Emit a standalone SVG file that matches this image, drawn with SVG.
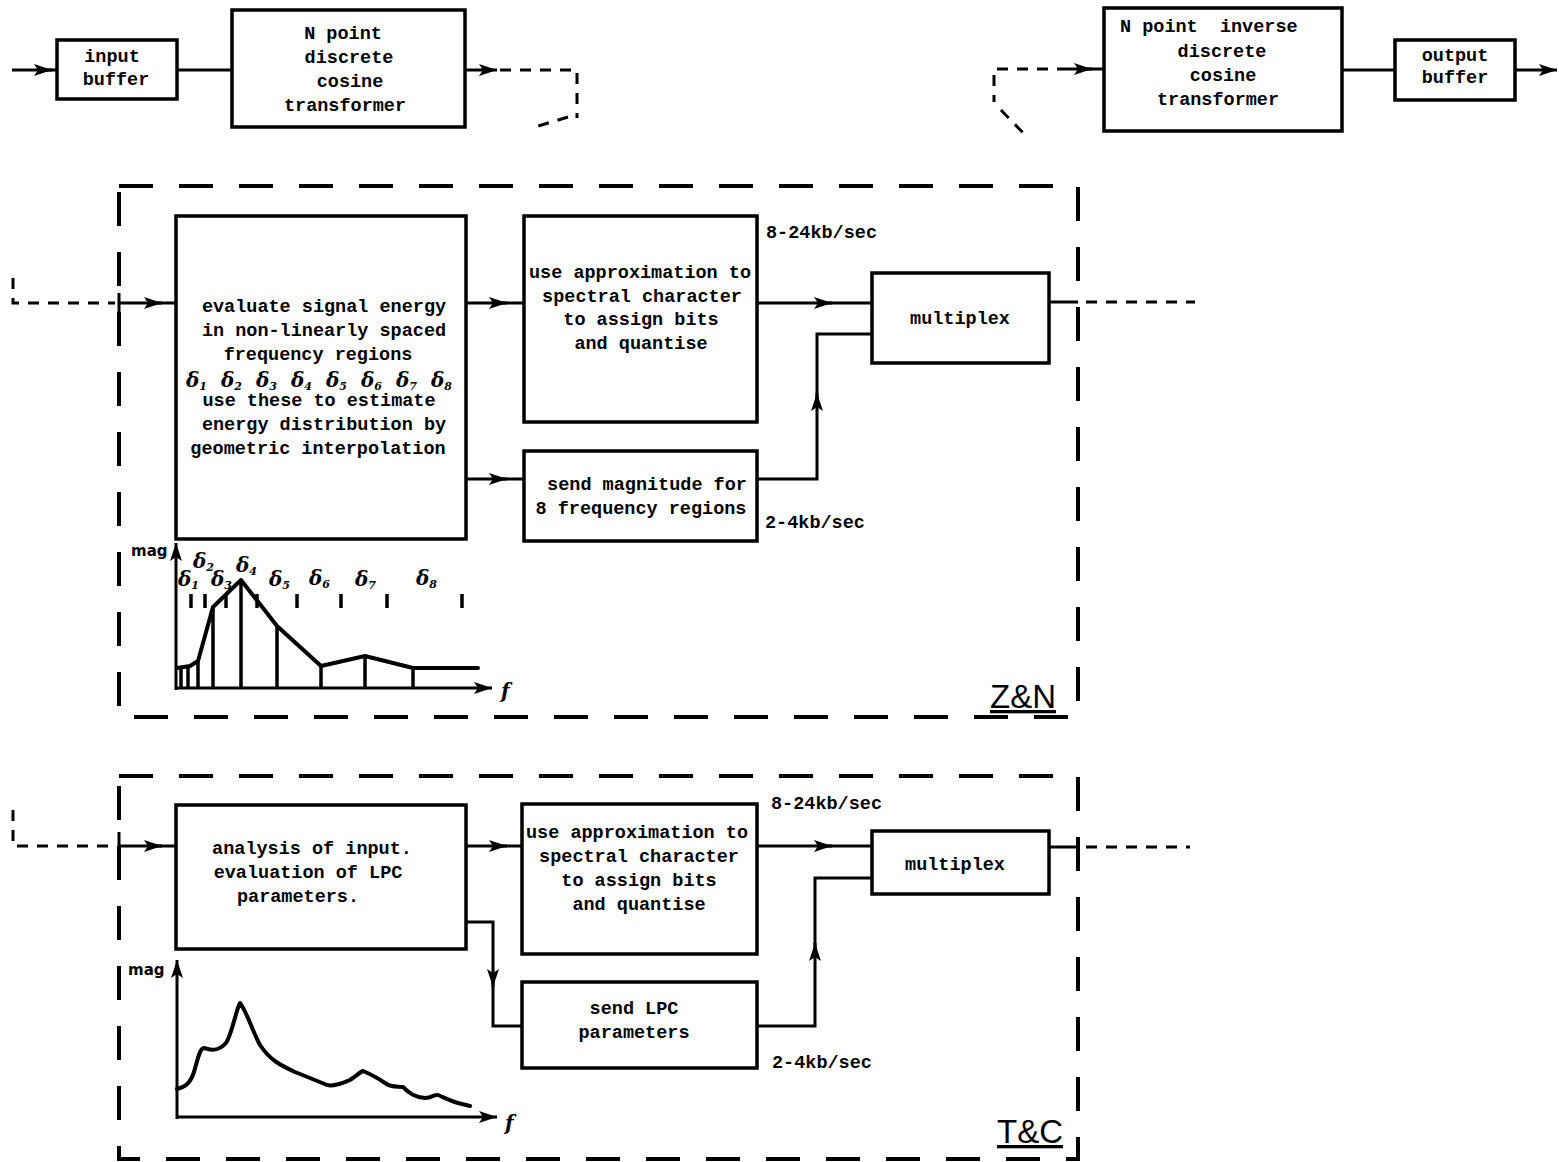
<svg xmlns="http://www.w3.org/2000/svg" width="1559" height="1162" viewBox="0 0 1559 1162">
<defs>
<marker id="ah" markerUnits="userSpaceOnUse" markerWidth="20" markerHeight="14" refX="18" refY="7" orient="auto">
<path d="M0,1 L18,7 L0,13 L4,7 z" fill="#000"/>
</marker>
<style>
.box{fill:#fff;stroke:#000;stroke-width:3.5}
.ln{fill:none;stroke:#000;stroke-width:3}
.dl{fill:none;stroke:#000;stroke-width:3;stroke-dasharray:11 9}
.frame{fill:none;stroke:#000;stroke-width:4;stroke-dasharray:34 26}
.t{font-family:"Liberation Mono",monospace;font-weight:bold;font-size:18.5px;fill:#000;text-anchor:middle}
.tl{font-family:"Liberation Mono",monospace;font-weight:bold;font-size:18.5px;fill:#000}
.lab{font-family:"Liberation Sans",Arial,sans-serif;font-size:33px;fill:#000;text-decoration:underline}
.d{font-family:"DejaVu Serif",serif;font-style:italic;font-weight:bold;font-size:20px;fill:#000}
.ds{font-family:"DejaVu Serif",serif;font-weight:bold;font-size:11px;fill:#000}
.hand{font-family:"DejaVu Sans",sans-serif;font-weight:bold;font-size:15px;fill:#000}
.cv{fill:none;stroke:#000;stroke-width:4;stroke-linejoin:round;stroke-linecap:round}
</style>
</defs>
<rect width="1559" height="1162" fill="#fff"/>

<g id="frames">
<rect class="frame" x="119" y="186" width="959" height="531"/>
<rect class="frame" x="119" y="776" width="959" height="383"/>
<rect x="985" y="700" width="80" height="14" fill="#fff"/>
<rect x="992" y="1134" width="72" height="14" fill="#fff"/>
<text class="lab" x="990" y="708">Z&amp;N</text>
<text class="lab" x="997" y="1143">T&amp;C</text>
</g>

<g id="connectors">
<!-- top left -->
<path class="ln" d="M12,70 H52" marker-end="url(#ah)"/>
<path class="ln" d="M45,70 H57"/>
<path class="ln" d="M177,70 H232"/>
<path class="ln" d="M465,70 H497" marker-end="url(#ah)"/>
<path class="dl" d="M500,70 H577 V118"/>
<path class="dl" d="M568,117 L535,127"/>
<!-- top right -->
<path class="dl" d="M1068,69 H994 V102"/>
<path class="dl" d="M1001,110 L1028,138"/>
<path class="ln" d="M1068,69 H1092" marker-end="url(#ah)"/>
<path class="ln" d="M1085,69 H1104"/>
<path class="ln" d="M1342,70 H1395"/>
<path class="ln" d="M1515,70 H1557" marker-end="url(#ah)"/>
<!-- Z&N -->
<path class="dl" d="M13,278 V303 H115"/>
<path class="ln" d="M119,293 V313"/>
<path class="ln" d="M119,303 H162" marker-end="url(#ah)"/>
<path class="ln" d="M155,303 H176"/>
<path class="ln" d="M466,303 H507" marker-end="url(#ah)"/>
<path class="ln" d="M500,303 H524"/>
<path class="ln" d="M466,479 H507" marker-end="url(#ah)"/>
<path class="ln" d="M500,479 H524"/>
<path class="ln" d="M757,303 H832" marker-end="url(#ah)"/>
<path class="ln" d="M825,303 H872"/>
<path class="ln" d="M757,479 H817 V393" marker-end="url(#ah)"/>
<path class="ln" d="M817,400 V334 H872"/>
<path class="ln" d="M1049,302 H1078"/>
<path class="dl" d="M1086,302 H1195"/>
<!-- T&C -->
<path class="dl" d="M13,810 V846 H115"/>
<path class="ln" d="M119,832 V860"/>
<path class="ln" d="M119,846 H162" marker-end="url(#ah)"/>
<path class="ln" d="M155,846 H176"/>
<path class="ln" d="M466,846 H507" marker-end="url(#ah)"/>
<path class="ln" d="M500,846 H522"/>
<path class="ln" d="M466,922 H493 V987" marker-end="url(#ah)"/>
<path class="ln" d="M493,980 V1026 H522"/>
<path class="ln" d="M757,846 H832" marker-end="url(#ah)"/>
<path class="ln" d="M825,846 H872"/>
<path class="ln" d="M757,1026 H815 V943" marker-end="url(#ah)"/>
<path class="ln" d="M815,950 V878 H872"/>
<path class="ln" d="M1049,847 H1078"/>
<path class="dl" d="M1086,847 H1190"/>
</g>

<g id="input-buffer">
<rect class="box" x="57" y="40" width="120" height="59"/>
<text class="t" x="112" y="62">input</text>
<text class="t" x="116" y="85">buffer</text>
</g>

<g id="dct">
<rect class="box" x="232" y="10" width="233" height="117"/>
<text class="t" x="343" y="39">N point</text>
<text class="t" x="349" y="63">discrete</text>
<text class="t" x="350" y="87">cosine</text>
<text class="t" x="345" y="111">transformer</text>
</g>

<g id="idct">
<rect class="box" x="1104" y="8" width="238" height="123"/>
<text class="tl" x="1120" y="32" xml:space="preserve">N point  inverse</text>
<text class="t" x="1222" y="57">discrete</text>
<text class="t" x="1223" y="81">cosine</text>
<text class="t" x="1218" y="105">transformer</text>
</g>

<g id="output-buffer">
<rect class="box" x="1395" y="40" width="120" height="60"/>
<text class="t" x="1455" y="61">output</text>
<text class="t" x="1455" y="83">buffer</text>
</g>

<g id="evaluate">
<rect class="box" x="176" y="216" width="290" height="323"/>
<text class="t" x="324" y="312">evaluate signal energy</text>
<text class="t" x="324" y="336">in non-linearly spaced</text>
<text class="t" x="318" y="360">frequency regions</text>
<text class="d" x="186" y="387">δ<tspan class="ds" dy="3">1</tspan><tspan dx="14" dy="-3">δ</tspan><tspan class="ds" dy="3">2</tspan><tspan dx="14" dy="-3">δ</tspan><tspan class="ds" dy="3">3</tspan><tspan dx="14" dy="-3">δ</tspan><tspan class="ds" dy="3">4</tspan><tspan dx="14" dy="-3">δ</tspan><tspan class="ds" dy="3">5</tspan><tspan dx="14" dy="-3">δ</tspan><tspan class="ds" dy="3">6</tspan><tspan dx="14" dy="-3">δ</tspan><tspan class="ds" dy="3">7</tspan><tspan dx="14" dy="-3">δ</tspan><tspan class="ds" dy="3">8</tspan></text>
<text class="t" x="319" y="406">use these to estimate</text>
<text class="t" x="324" y="430">energy distribution by</text>
<text class="t" x="318" y="454">geometric interpolation</text>
</g>

<g id="approx1">
<rect class="box" x="524" y="216" width="233" height="206"/>
<text class="t" x="640" y="278">use approximation to</text>
<text class="t" x="642" y="302">spectral character</text>
<text class="t" x="641" y="325">to assign bits</text>
<text class="t" x="641" y="349">and quantise</text>
</g>

<g id="sendmag">
<rect class="box" x="524" y="451" width="233" height="90"/>
<text class="t" x="647" y="490">send magnitude for</text>
<text class="t" x="641" y="514">8 frequency regions</text>
</g>

<g id="mux1">
<rect class="box" x="872" y="273" width="177" height="90"/>
<text class="t" x="960" y="324">multiplex</text>
</g>

<g id="rates1">
<text class="tl" x="766" y="238">8-24kb/sec</text>
<text class="tl" x="765" y="528">2-4kb/sec</text>
</g>

<g id="graph1">
<path class="ln" d="M176,690 V543" marker-end="url(#ah)"/>
<path class="ln" d="M175,688 H492" marker-end="url(#ah)"/>
<path class="cv" d="M177,668 L190,666 L198,661 L213,607 L241,580 L277,626 L321,666 L365,656 L413,668 L478,668"/>
<g stroke="#000" stroke-width="3.5">
<line x1="181" y1="668" x2="181" y2="688"/>
<line x1="188" y1="666" x2="188" y2="688"/>
<line x1="198" y1="661" x2="198" y2="688"/>
<line x1="213" y1="607" x2="213" y2="688"/>
<line x1="241" y1="580" x2="241" y2="688"/>
<line x1="277" y1="626" x2="277" y2="688"/>
<line x1="321" y1="666" x2="321" y2="688"/>
<line x1="365" y1="656" x2="365" y2="688"/>
<line x1="413" y1="668" x2="413" y2="688"/>
<line x1="191" y1="594" x2="191" y2="608"/>
<line x1="205" y1="594" x2="205" y2="608"/>
<line x1="226" y1="594" x2="226" y2="608"/>
<line x1="257" y1="594" x2="257" y2="608"/>
<line x1="297" y1="594" x2="297" y2="608"/>
<line x1="341" y1="594" x2="341" y2="608"/>
<line x1="387" y1="594" x2="387" y2="608"/>
<line x1="462" y1="594" x2="462" y2="608"/>
</g>
<text class="hand" x="131" y="556">mag</text>
<text class="d" x="178" y="586">δ<tspan class="ds" dy="3">1</tspan></text>
<text class="d" x="193" y="568">δ<tspan class="ds" dy="3">2</tspan></text>
<text class="d" x="211" y="586">δ<tspan class="ds" dy="3">3</tspan></text>
<text class="d" x="236" y="572">δ<tspan class="ds" dy="3">4</tspan></text>
<text class="d" x="269" y="586">δ<tspan class="ds" dy="3">5</tspan></text>
<text class="d" x="309" y="585">δ<tspan class="ds" dy="3">6</tspan></text>
<text class="d" x="355" y="586">δ<tspan class="ds" dy="3">7</tspan></text>
<text class="d" x="416" y="585">δ<tspan class="ds" dy="3">8</tspan></text>
<text class="d" x="501" y="698" font-size="24">f</text>
</g>

<g id="analysis">
<rect class="box" x="176" y="805" width="290" height="144"/>
<text class="t" x="312" y="854">analysis of input.</text>
<text class="t" x="308" y="878">evaluation of LPC</text>
<text class="t" x="298" y="902">parameters.</text>
</g>

<g id="approx2">
<rect class="box" x="522" y="804" width="235" height="150"/>
<text class="t" x="637" y="838">use approximation to</text>
<text class="t" x="639" y="862">spectral character</text>
<text class="t" x="639" y="886">to assign bits</text>
<text class="t" x="639" y="910">and quantise</text>
</g>

<g id="sendlpc">
<rect class="box" x="522" y="982" width="235" height="86"/>
<text class="t" x="634" y="1014">send LPC</text>
<text class="t" x="634" y="1038">parameters</text>
</g>

<g id="mux2">
<rect class="box" x="872" y="831" width="177" height="63"/>
<text class="t" x="955" y="870">multiplex</text>
</g>

<g id="rates2">
<text class="tl" x="771" y="809">8-24kb/sec</text>
<text class="tl" x="772" y="1068">2-4kb/sec</text>
</g>

<g id="graph2">
<path class="ln" d="M177,1119 V960" marker-end="url(#ah)"/>
<path class="ln" d="M176,1117 H497" marker-end="url(#ah)"/>
<path class="cv" d="M177,1089 C185,1087 190,1084 194,1072 C198,1058 200,1048 204,1048 C210,1050 218,1052 226,1043 C232,1034 236,1010 240,1003 C246,1010 252,1030 260,1045 C270,1060 280,1065 295,1072 C305,1076 315,1080 327,1085 C335,1087 345,1082 350,1080 C356,1076 360,1072 363,1071 C370,1074 378,1078 385,1083 C392,1088 398,1086 403,1087 C410,1094 415,1097 425,1098 C432,1098 435,1094 438,1095 C445,1098 452,1102 462,1104 L470,1106"/>
<text class="hand" x="128" y="975">mag</text>
<text class="d" x="505" y="1130" font-size="24">f</text>
</g>
</svg>
